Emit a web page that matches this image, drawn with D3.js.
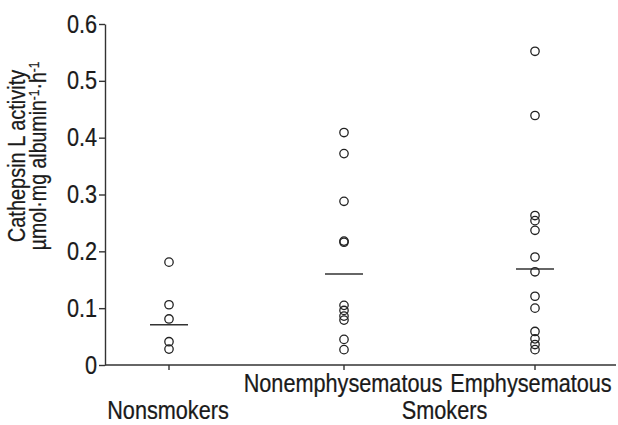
<!DOCTYPE html>
<html lang="en">
<head>
    <meta charset="UTF-8">
    <title>cathepsin L dot plot</title>
    <script src="https://cdnjs.cloudflare.com/ajax/libs/d3/7.8.5/d3.min.js"></script>
    <style>
        body{ margin: 0; background: #fff; }
        svg text{ font-family: "Liberation Sans", Arial, Helvetica, sans-serif; fill: #1a1a1a; stroke: #1a1a1a; stroke-width: 0.25px; }
        .axis path, .axis line{ stroke: #333; stroke-width: 1.4px; }
    </style>
</head>
<body>
<svg id="main" width="618" height="425"></svg>

<script>
    // groups on the x axis
    let groups = ["Nonsmokers", "Nonemphysematous", "Emphysematous"]
    let nonsmokers = [0.181, 0.106, 0.081, 0.041, 0.028]
    let nonemphysematous = [0.409, 0.372, 0.288, 0.218, 0.216, 0.105, 0.096, 0.086, 0.079, 0.045, 0.027]
    let emphysematous = [0.552, 0.439, 0.263, 0.254, 0.237, 0.190, 0.164, 0.121, 0.100, 0.059, 0.046, 0.036, 0.027]
    // group means (horizontal bars)
    let means = [0.071, 0.160, 0.169]
    let yTicks = [0, 0.1, 0.2, 0.3, 0.4, 0.5, 0.6]

    let series = [nonsmokers, nonemphysematous, emphysematous]

    const SX = 0.85   // condensed look of the original type
    let svg = d3.select("#main")

    let x = d3.scaleOrdinal().domain(groups).range([169, 344, 535])
    let y = d3.scaleLinear().domain([0, 0.6]).range([365, 24])

    function squeeze(sel){
        sel.each(function(){
            let t = d3.select(this)
            let tx = +t.attr("x") || 0
            t.attr("x", tx / SX).attr("transform", "scale(" + SX + ",1)")
        })
    }

    // y axis
    let yAxis = svg.append("g")
        .attr("class", "axis")
        .attr("transform", "translate(105,0)")
        .call(d3.axisLeft(y).tickValues(yTicks).tickSize(6).tickSizeOuter(0).tickPadding(2)
            .tickFormat(d => d === 0 ? "0" : d.toFixed(1)))
    yAxis.selectAll("text").attr("font-size", 25.5).attr("fill", "#1a1a1a")
        .style("font-family", '"Liberation Sans", Arial, sans-serif')
    squeeze(yAxis.selectAll("text"))

    // x axis line + ticks
    svg.append("line")
        .attr("x1", 105).attr("x2", 616)
        .attr("y1", y(0)).attr("y2", y(0))
        .attr("stroke", "#333").attr("stroke-width", 1.4)
    svg.selectAll(".xtick").data(groups).join("line")
        .attr("class", "xtick")
        .attr("x1", d => x(d)).attr("x2", d => x(d))
        .attr("y1", y(0)).attr("y2", y(0) + 5)
        .attr("stroke", "#333").attr("stroke-width", 1.4)

    // category labels
    function label(txt, cx, cy, size){
        svg.append("text")
            .attr("transform", "translate(" + cx + "," + cy + ") scale(" + SX + ",1)")
            .attr("text-anchor", "middle")
            .attr("font-size", size)
            .text(txt)
    }
    label(groups[1], x(groups[1]) - 1, 392, 25.5)
    label(groups[2], x(groups[2]) - 4, 392, 25.5)
    label(groups[0], x(groups[0]) - 1, 419, 25.5)
    label("Smokers", (x(groups[1]) + x(groups[2])) / 2 + 5, 419, 25.5)

    // y axis title
    let title = svg.append("g").attr("transform", "translate(0,156)")
    title.append("text")
        .attr("transform", "translate(25,0) rotate(-90) scale(" + SX + ",1)")
        .attr("text-anchor", "middle")
        .attr("font-size", 23.5)
        .text("Cathepsin L activity")
    let t2 = title.append("text")
        .attr("transform", "translate(46,0) rotate(-90) scale(" + SX + ",1)")
        .attr("text-anchor", "middle")
        .attr("font-size", 23)
    t2.append("tspan").text("\u00b5mol\u00b7mg albumin")
    t2.append("tspan").attr("dy", -7).attr("font-size", 14).text("-1")
    t2.append("tspan").attr("dy", 7).text("\u00b7h")
    t2.append("tspan").attr("dy", -7).attr("font-size", 14).text("-1")

    // mean bars
    svg.selectAll(".mean").data(means).join("line")
        .attr("class", "mean")
        .attr("x1", (d, i) => x(groups[i]) - 19)
        .attr("x2", (d, i) => x(groups[i]) + 19)
        .attr("y1", d => y(d)).attr("y2", d => y(d))
        .attr("stroke", "#333").attr("stroke-width", 1.5)

    // points
    series.forEach(function (vals, i){
        svg.append("g").selectAll("circle").data(vals).join("circle")
            .attr("cx", x(groups[i]))
            .attr("cy", d => y(d))
            .attr("r", 4.2)
            .attr("fill", "none")
            .attr("stroke", "#222")
            .attr("stroke-width", 1.3)
    })
</script>
</body>
</html>
